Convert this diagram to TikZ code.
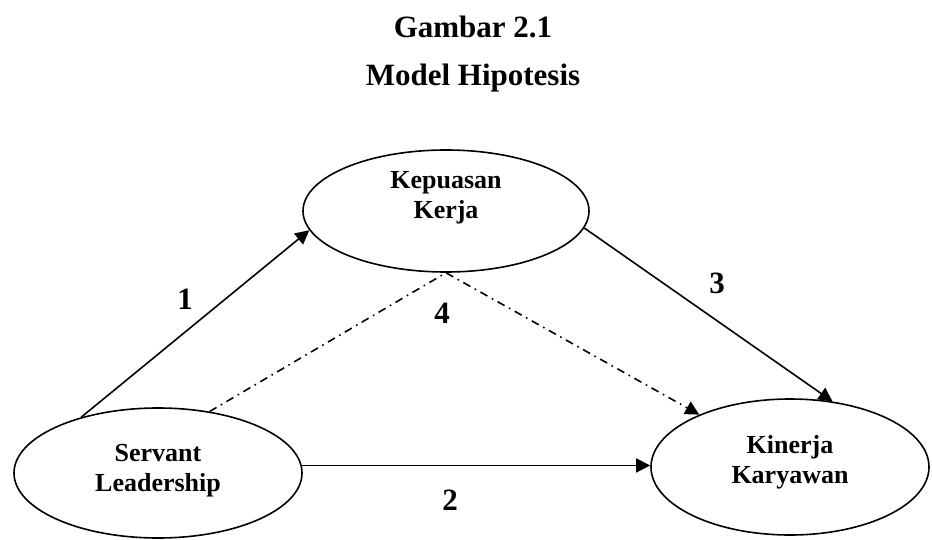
\documentclass[tikz,border=0pt]{standalone}
\usepackage{fontspec}
\setmainfont{Liberation Serif}
\usetikzlibrary{arrows.meta}
\usetikzlibrary{shapes}

\begin{document}
\begin{tikzpicture}[x = 0.5pt, y = -0.5pt]
\tikzstyle{ovalStyle} = [shape = ellipse, draw, line width = 0.8pt, inner sep = 0pt]
\tikzstyle{textStyle} = [font = \fontsize{13}{15}\selectfont\bfseries, align = center]
\tikzstyle{numStyle} = [font = \fontsize{15.5}{18}\selectfont\bfseries]
\tikzstyle{arrowStyle} = [line width = 0.8pt, -{Triangle[length = 7pt, width = 7pt]}]
\tikzstyle{dashStyle} = [arrowStyle, dash pattern = on 4pt off 2.5pt on 0.8pt off 2.5pt]
\useasboundingbox (0,0) rectangle (932,540);
% title
\node[numStyle, anchor = base] (title1) at (473,38) {Gambar 2.1};
\node[numStyle, anchor = base] (title2) at (473,86) {Model Hipotesis};
% variables
\node[ovalStyle, minimum width = 143pt, minimum height = 61pt] (kp) at (446,211) {};
\node[ovalStyle, minimum width = 144pt, minimum height = 65pt] (sl) at (158,473) {};
\node[ovalStyle, minimum width = 139pt, minimum height = 68pt] (kw) at (790,467) {};
\node[textStyle] (tkp) at (446,198) {Kepuasan\\Kerja};
\node[textStyle] (tsl) at (158,471) {Servant\\Leadership};
\node[textStyle] (tkw) at (790,462) {Kinerja\\Karyawan};
% hypotheses
\draw[arrowStyle] (sl.144) -- (kp.188);
\draw[arrowStyle] (sl.3) -- (sl.3 -| kw.west);
\draw[arrowStyle] (kp.-7) -- (kw.57);
\draw[dashStyle] (sl.50) -- (kp.south) -- (kw.150);
\node[numStyle] (h1) at (185,299) {1};
\node[numStyle] (h2) at (450,500) {2};
\node[numStyle] (h3) at (717,283) {3};
\node[numStyle] (h4) at (442,313) {4};
\end{tikzpicture}
\end{document}
